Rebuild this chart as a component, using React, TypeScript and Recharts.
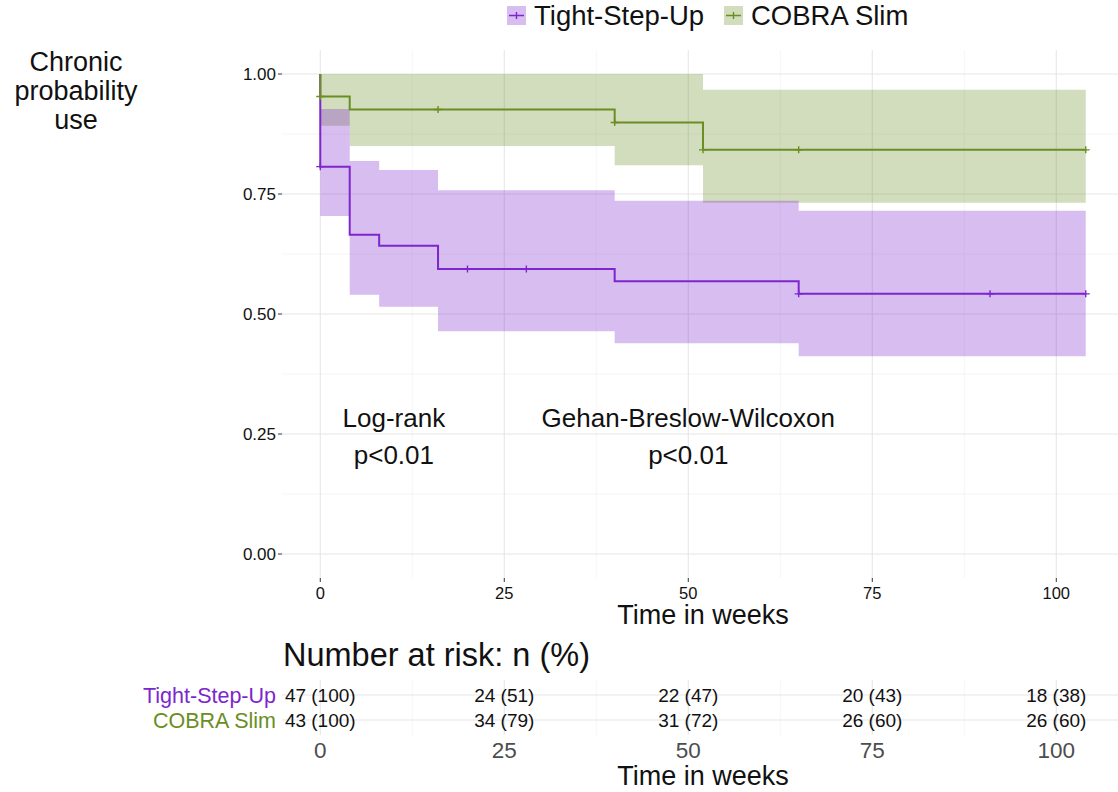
import {
  Area,
  CartesianGrid,
  ComposedChart,
  Line,
  Scatter,
  XAxis,
  YAxis,
} from "recharts";

const TSU_COLOR = "#7D26CD";
const COBRA_COLOR = "#6B8E23";
const TEXT_COLOR = "#111111";
const FONT = "'Liberation Sans', Arial, Helvetica, sans-serif";

const groupNames = ["Tight-Step-Up", "COBRA Slim"];

// Kaplan–Meier steps (weeks → survival)
const tsuTimes = [0, 0, 4, 8, 16, 40, 65, 104];
const tsuSurv = [1, 0.807, 0.665, 0.642, 0.594, 0.568, 0.542, 0.542];
const cobraTimes = [0, 0, 4, 40, 52, 104];
const cobraSurv = [1, 0.953, 0.926, 0.899, 0.842, 0.842];

// confidence bands, step-after
const tsuBandTimes = [0, 4, 8, 16, 40, 65, 104];
const tsuLower = [0.704, 0.54, 0.515, 0.464, 0.439, 0.412, 0.412];
const tsuUpper = [0.927, 0.819, 0.8, 0.758, 0.736, 0.715, 0.715];
const cobraBandTimes = [0, 4, 40, 52, 104];
const cobraLower = [0.892, 0.85, 0.81, 0.732, 0.732];
const cobraUpper = [1.0, 1.0, 1.0, 0.967, 0.967];

// censoring marks
const tsuCensorTimes = [0, 20, 28, 65, 91, 104];
const tsuCensorSurv = [0.807, 0.594, 0.594, 0.542, 0.542, 0.542];
const cobraCensorTimes = [0, 16, 40, 52, 65, 104];
const cobraCensorSurv = [0.953, 0.926, 0.899, 0.842, 0.842, 0.842];

const xTicks = [0, 25, 50, 75, 100];
const xMinor = [12.5, 37.5, 62.5, 87.5];
const yTicks = [0, 0.25, 0.5, 0.75, 1];
const yMinor = [0.125, 0.375, 0.625, 0.875];

const annotationTexts = ["Log-rank", "p<0.01", "Gehan-Breslow-Wilcoxon", "p<0.01"];
const annotationX = [10, 10, 50, 50];
const annotationY = [0.284, 0.207, 0.284, 0.207];

// number at risk table
const riskTimes = [0, 25, 50, 75, 100];
const tsuAtRisk = [47, 24, 22, 20, 18];
const tsuAtRiskPct = [100, 51, 47, 43, 38];
const cobraAtRisk = [43, 34, 31, 26, 26];
const cobraAtRiskPct = [100, 79, 72, 60, 60];

const X_DOMAIN: [number, number] = [-5.2, 109.2];
const Y_DOMAIN: [number, number] = [-0.05, 1.05];
const CHART_W = 1124;
const Y_AXIS_W = 282;

const toSteps = (times: number[], surv: number[]) =>
  times.map((t, i) => ({ t, s: surv[i] }));
const toBand = (times: number[], lo: number[], hi: number[]) =>
  times.map((t, i) => ({ t, range: [lo[i], hi[i]] }));

const tsuLine = toSteps(tsuTimes, tsuSurv);
const cobraLine = toSteps(cobraTimes, cobraSurv);
const tsuBand = toBand(tsuBandTimes, tsuLower, tsuUpper);
const cobraBand = toBand(cobraBandTimes, cobraLower, cobraUpper);
const tsuCensor = toSteps(tsuCensorTimes, tsuCensorSurv);
const cobraCensor = toSteps(cobraCensorTimes, cobraCensorSurv);
const annotations = annotationTexts.map((text, i) => ({
  t: annotationX[i],
  s: annotationY[i],
  text,
}));

const riskRows = [
  ...riskTimes.map((t, i) => ({ t, s: 2, text: `${tsuAtRisk[i]} (${tsuAtRiskPct[i]})` })),
  ...riskTimes.map((t, i) => ({ t, s: 1, text: `${cobraAtRisk[i]} (${cobraAtRiskPct[i]})` })),
];

function plusShape(color: string) {
  return (p: any) => {
    const { cx, cy } = p;
    return (
      <path
        d={`M${cx - 4},${cy}H${cx + 4}M${cx},${cy - 3.5}V${cy + 3.5}`}
        stroke={color}
        strokeWidth={1.4}
        fill="none"
      />
    );
  };
}

function AnnotationText(p: any) {
  return (
    <text
      x={p.cx}
      y={p.cy}
      textAnchor="middle"
      dominantBaseline="central"
      fontSize={26}
      fill={TEXT_COLOR}
    >
      {p.payload.text}
    </text>
  );
}

function RiskText(p: any) {
  return (
    <text
      x={p.cx}
      y={p.cy}
      dy="0.38em"
      textAnchor="middle"
      fontSize={19}
      fill={TEXT_COLOR}
    >
      {p.payload.text}
    </text>
  );
}

function RiskGroupTick(p: any) {
  const name = p.payload.value === 2 ? groupNames[0] : groupNames[1];
  const color = p.payload.value === 2 ? TSU_COLOR : COBRA_COLOR;
  return (
    <text x={p.x} y={p.y} dy="0.36em" textAnchor="end" fontSize={21.5} fill={color}>
      {name}
    </text>
  );
}

function LegendKey({ x, color }: { x: number; color: string }) {
  return (
    <g>
      <rect x={x} y={6} width={19} height={19} fill={color} fillOpacity={0.3} />
      <path
        d={`M${x + 2},15.5H${x + 17}M${x + 9.5},12V19`}
        stroke={color}
        strokeWidth={1.4}
      />
    </g>
  );
}

export default function App() {
  return (
    <div
      style={{
        position: "absolute",
        left: 0,
        top: 0,
        width: 1118,
        height: 792,
        overflow: "hidden",
        background: "#fff",
        fontFamily: FONT,
      }}
    >
      <svg
        width={1118}
        height={792}
        style={{ position: "absolute", left: 0, top: 0 }}
      >
        <LegendKey x={507} color={TSU_COLOR} />
        <text x={534} y={25} fontSize={27.5} fill={TEXT_COLOR}>
          {groupNames[0]}
        </text>
        <LegendKey x={724} color={COBRA_COLOR} />
        <text x={751} y={25} fontSize={27.5} fill={TEXT_COLOR}>
          {groupNames[1]}
        </text>

        <text textAnchor="middle" fontSize={27} fill={TEXT_COLOR}>
          <tspan x={76} y={71}>Chronic</tspan>
          <tspan x={76} y={100}>probability</tspan>
          <tspan x={76} y={128.5}>use</tspan>
        </text>

        <text x={703} y={624} textAnchor="middle" fontSize={27} fill={TEXT_COLOR}>
          Time in weeks
        </text>
        <text x={283} y={666} fontSize={32.5} fill={TEXT_COLOR}>
          Number at risk: n (%)
        </text>
        <text x={703} y={785} textAnchor="middle" fontSize={27} fill={TEXT_COLOR}>
          Time in weeks
        </text>
      </svg>

      <div style={{ position: "absolute", left: 0, top: 0 }}>
        <ComposedChart
          width={CHART_W}
          height={608}
          margin={{ top: 50, right: 0, bottom: 0, left: 0 }}
        >
          <CartesianGrid
            stroke="#F1F1F1"
            strokeWidth={0.7}
            horizontalValues={yMinor}
            verticalValues={xMinor}
          />
          <CartesianGrid
            stroke="#E6E6E6"
            strokeWidth={1.1}
            horizontalValues={yTicks}
            verticalValues={xTicks}
          />
          <XAxis
            type="number"
            dataKey="t"
            domain={X_DOMAIN}
            ticks={xTicks}
            interval={0}
            allowDataOverflow
            axisLine={false}
            tickLine={{ stroke: "#333" }}
            tickSize={4}
            tickMargin={5}
            tick={{ fill: TEXT_COLOR, fontSize: 16.5 }}
            height={30}
          />
          <YAxis
            type="number"
            dataKey="s"
            domain={Y_DOMAIN}
            ticks={yTicks}
            interval={0}
            allowDataOverflow
            axisLine={false}
            tickLine={{ stroke: "#333" }}
            tickSize={4}
            tickMargin={2}
            tick={{ fill: TEXT_COLOR, fontSize: 17 }}
            tickFormatter={(v: number) => v.toFixed(2)}
            width={Y_AXIS_W}
          />
          <Area
            data={cobraBand}
            type="stepAfter"
            dataKey="range"
            stroke="none"
            fill={COBRA_COLOR}
            fillOpacity={0.3}
            isAnimationActive={false}
          />
          <Area
            data={tsuBand}
            type="stepAfter"
            dataKey="range"
            stroke="none"
            fill={TSU_COLOR}
            fillOpacity={0.3}
            isAnimationActive={false}
          />
          <Line
            data={tsuLine}
            type="stepAfter"
            dataKey="s"
            stroke={TSU_COLOR}
            strokeWidth={2}
            dot={false}
            isAnimationActive={false}
          />
          <Line
            data={cobraLine}
            type="stepAfter"
            dataKey="s"
            stroke={COBRA_COLOR}
            strokeWidth={2}
            dot={false}
            isAnimationActive={false}
          />
          <Scatter
            data={tsuCensor}
            dataKey="s"
            shape={plusShape(TSU_COLOR)}
            isAnimationActive={false}
          />
          <Scatter
            data={cobraCensor}
            dataKey="s"
            shape={plusShape(COBRA_COLOR)}
            isAnimationActive={false}
          />
          <Scatter
            data={annotations}
            dataKey="s"
            shape={AnnotationText}
            isAnimationActive={false}
          />
        </ComposedChart>
      </div>

      <div style={{ position: "absolute", left: 0, top: 680 }}>
        <ComposedChart
          width={CHART_W}
          height={85}
          margin={{ top: 0, right: 0, bottom: 0, left: 0 }}
        >
          <CartesianGrid
            stroke="#F1F1F1"
            strokeWidth={0.7}
            horizontal={false}
            verticalValues={xMinor}
          />
          <CartesianGrid
            stroke="#E6E6E6"
            strokeWidth={1.1}
            horizontalValues={[1, 2]}
            verticalValues={riskTimes}
          />
          <XAxis
            type="number"
            dataKey="t"
            domain={X_DOMAIN}
            ticks={riskTimes}
            interval={0}
            allowDataOverflow
            axisLine={false}
            tickLine={false}
            tickSize={0}
            tickMargin={7}
            tick={{ fill: "#4D4D4D", fontSize: 22.5 }}
            height={30}
          />
          <YAxis
            type="number"
            dataKey="s"
            domain={[0.4, 2.6]}
            ticks={[1, 2]}
            interval={0}
            allowDataOverflow
            axisLine={false}
            tickLine={false}
            tickSize={0}
            tickMargin={6}
            tick={<RiskGroupTick />}
            width={Y_AXIS_W}
          />
          <Scatter
            data={riskRows}
            dataKey="s"
            shape={RiskText}
            isAnimationActive={false}
          />
        </ComposedChart>
      </div>
    </div>
  );
}
